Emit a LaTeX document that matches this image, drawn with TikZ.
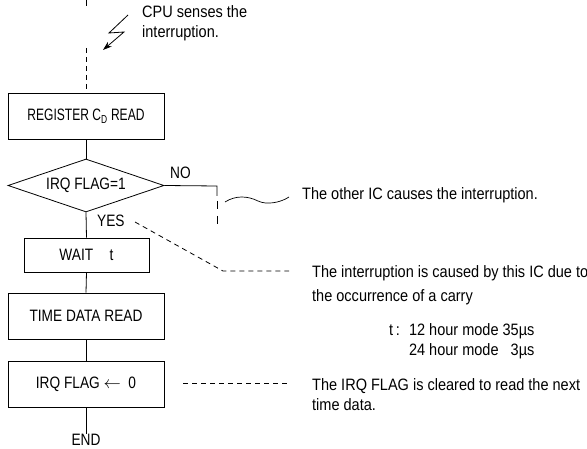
\documentclass[tikz,border=0pt]{standalone}
\usepackage{fontspec}
\setmainfont{Liberation Sans}[FakeStretch=0.88]
\newfontfamily\boxfont{Liberation Sans}[FakeStretch=0.83]
\newfontfamily\regfont{Liberation Sans}[FakeStretch=0.73]
\usetikzlibrary{shapes.geometric,arrows.meta}
\begin{document}
\begin{tikzpicture}[x=1pt,y=-1pt,
  every node/.style={font=\fontsize{16.5}{20}\selectfont},
  boxtext/.style={font=\fontsize{16.5}{20}\selectfont\boxfont},
  stepbox/.style={draw,line width=0.8pt,minimum width=156pt,minimum height=46pt,inner sep=0pt,boxtext},
  flow/.style={line width=0.8pt},
  dsh/.style={line width=0.8pt,dash pattern=on 5pt off 4pt},
  note/.style={anchor=west,inner sep=0pt,align=left}]
\useasboundingbox (0,0) rectangle (587,449);
% nodes
\node[stepbox,font=\fontsize{16.5}{20}\selectfont\regfont] (reg) at (86,116) {REGISTER C\textsubscript{D} READ};
\node[draw,line width=0.8pt,shape=diamond,aspect=2.94,minimum width=156pt,minimum height=53pt,inner sep=0pt,boxtext] (irq) at (86,185.5) {IRQ FLAG=1};
\node[stepbox,minimum width=125pt,minimum height=34pt] (wait) at (86.5,255) {WAIT\quad t};
\node[stepbox] (time) at (86,316) {TIME DATA READ};
\node[stepbox] (clr) at (86,384) {IRQ FLAG $\leftarrow$\ \ 0};
\node[inner sep=0pt,boxtext] (end) at (86,440) {END};
\node[inner sep=0pt,anchor=west,boxtext] (no) at (170,173) {NO};
\node[inner sep=0pt,anchor=west,boxtext] (yes) at (97,221) {YES};
\node[note,font=\fontsize{16.5}{20}\selectfont] (cpu) at (142,23) {CPU senses the\\interruption.};
\node[note] (other) at (302,195) {The other IC causes the interruption.};
\node[note,font=\fontsize{16.5}{24}\selectfont] (carry) at (312,285) {The interruption is caused by this IC due to\\the occurrence of a carry};
\node[note] (tmode) at (389,342) {\begin{tabular}{@{}r@{}l@{}l@{\ }r@{}}t & \,:\hspace{9pt} & 12 hour mode & 35µs\\ & & 24 hour mode & 3µs\end{tabular}};
\node[note] (clrnote) at (312,395) {The IRQ FLAG is cleared to read the next\\time data.};
% coordinates
\coordinate (top) at (86,0);
\coordinate (topend) at (86,6);
\coordinate (dstart) at (86,48);
\coordinate (nocorner) at (217,186);
\coordinate (nosolid) at (217,196);
\coordinate (nodash) at (217,201);
\coordinate (noend) at (217,230);
\coordinate (ya) at (135,222);
\coordinate (yb) at (223,271);
\coordinate (yc) at (289,271);
\coordinate (ca) at (183,383);
\coordinate (cb) at (288,383);
\coordinate (la) at (128,15);
\coordinate (lb) at (109,33);
\coordinate (lc) at (124,32);
\coordinate (ld) at (103,50);
\coordinate (wa) at (225,202);
\coordinate (wb) at (258,201);
\coordinate (wc) at (289,197);
% connectors
\draw[flow] (top) -- (topend);
\draw[dsh] (dstart) -- (reg.north);
\draw[flow] (reg.south) -- (irq.north);
\draw[flow] (irq.south) -- (wait.north);
\draw[flow] (wait.south) -- (time.north);
\draw[flow] (time.south) -- (clr.north);
\draw[flow] (clr.south) -- (end.north);
\draw[flow] (irq.east) -- (nocorner) -- (nosolid);
\draw[dsh,dash pattern=on 8pt off 7pt] (nodash) -- (noend);
\draw[dsh] (ya) -- (yb) -- (yc);
\draw[dsh] (ca) -- (cb);
\draw[line width=0.8pt,-{Stealth[length=9pt,width=6pt]}] (la) -- (lb) -- (lc) -- (ld);
\draw[line width=0.7pt] (wa) .. controls (236,195) and (248,196) .. (wb) .. controls (266,205) and (280,203) .. (wc);
\end{tikzpicture}
\end{document}
